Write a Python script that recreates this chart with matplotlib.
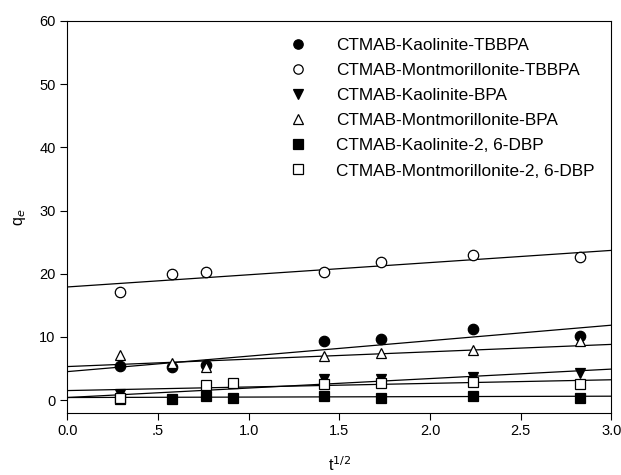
import numpy as np
import matplotlib
matplotlib.use('Agg')
import matplotlib.pyplot as plt

plt.rcParams['font.family'] = ['Liberation Sans', 'DejaVu Sans']

labels = ['CTMAB-Kaolinite-TBBPA', 'CTMAB-Montmorillonite-TBBPA',
          'CTMAB-Kaolinite-BPA', 'CTMAB-Montmorillonite-BPA',
          'CTMAB-Kaolinite-2, 6-DBP', 'CTMAB-Montmorillonite-2, 6-DBP']

# sqrt(t) sample points and q_e values
kao_tbbpa_x = [0.289, 0.577, 0.764, 1.414, 1.732, 2.236, 2.828]
kao_tbbpa_y = [5.4, 5.3, 5.6, 9.3, 9.6, 11.3, 10.1]

mont_tbbpa_x = [0.289, 0.577, 0.764, 1.414, 1.732, 2.236, 2.828]
mont_tbbpa_y = [17.1, 20.0, 20.3, 20.2, 21.9, 22.9, 22.7]

kao_bpa_x = [0.289, 1.414, 1.732, 2.236, 2.828]
kao_bpa_y = [0.9, 3.3, 3.3, 3.6, 4.3]

mont_bpa_x = [0.289, 0.577, 0.764, 1.414, 1.732, 2.236, 2.828]
mont_bpa_y = [7.1, 5.8, 5.2, 7.0, 7.5, 7.9, 9.3]

kao_dbp_x = [0.289, 0.577, 0.764, 0.913, 1.414, 1.732, 2.236, 2.828]
kao_dbp_y = [0.1, 0.1, 0.6, 0.4, 0.7, 0.4, 0.6, 0.4]

mont_dbp_x = [0.289, 0.764, 0.913, 1.414, 1.732, 2.236, 2.828]
mont_dbp_y = [0.4, 2.4, 2.7, 2.6, 2.7, 2.8, 2.6]

# fitted straight lines (intercept, slope)
fit_b = [4.5, 17.9, 0.4, 5.3, 0.4, 1.5]
fit_k = [2.45, 1.93, 1.5, 1.17, 0.07, 0.57]

xs = [kao_tbbpa_x, mont_tbbpa_x, kao_bpa_x, mont_bpa_x, kao_dbp_x, mont_dbp_x]
ys = [kao_tbbpa_y, mont_tbbpa_y, kao_bpa_y, mont_bpa_y, kao_dbp_y, mont_dbp_y]
markers = ['o', 'o', 'v', '^', 's', 's']
faces = ['black', 'white', 'black', 'white', 'black', 'white']

fig = plt.figure(figsize=(6.21, 4.75), dpi=100)
ax = fig.add_axes([0.1084, 0.1312, 0.8763, 0.8246])

xline = np.array([0.0, 3.0])
for b, k in zip(fit_b, fit_k):
    ax.plot(xline, b + k * xline, color='black', linewidth=0.9, zorder=2)

for x, y, m, fc, lab in zip(xs, ys, markers, faces, labels):
    ax.plot(x, y, linestyle='none', marker=m, markersize=7.5,
            markerfacecolor=fc, markeredgecolor='black', markeredgewidth=0.9,
            label=lab, zorder=3)

ax.set_xlim(0, 3.0)
ax.set_ylim(-2, 60)
ax.set_xticks([0, 0.5, 1.0, 1.5, 2.0, 2.5, 3.0])
ax.set_xticklabels(['0.0', '.5', '1.0', '1.5', '2.0', '2.5', '3.0'])
ax.set_yticks(range(0, 61, 10))
ax.tick_params(direction='out', length=5, width=0.8, labelsize=10.5)
for s in ax.spines.values():
    s.set_linewidth(0.8)

ax.set_xlabel('t$^{1/2}$', fontsize=11.5, labelpad=12)
ax.set_ylabel('q$_e$', fontsize=11.5, labelpad=8)

ax.legend(loc='upper left', bbox_to_anchor=(0.393, 0.956), frameon=False,
          fontsize=12.4, handletextpad=1.2, labelspacing=0.58,
          borderpad=0, borderaxespad=0, markerscale=0.9)

fig.savefig('out.png', dpi=100)
